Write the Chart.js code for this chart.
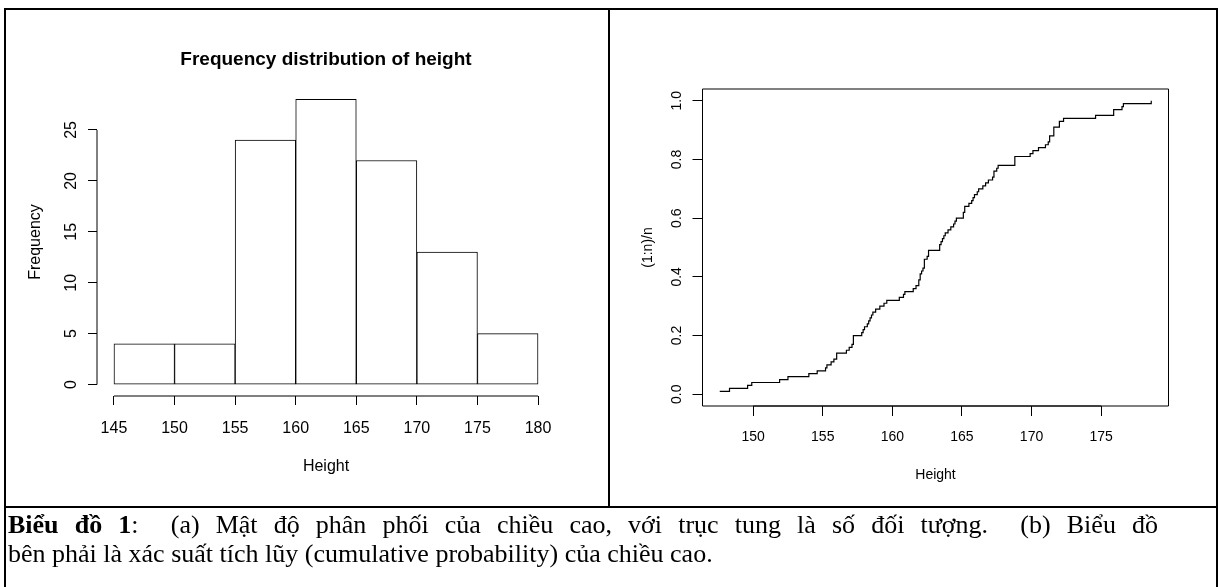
<!DOCTYPE html>
<html>
<head>
    <meta charset="utf-8" />
    <title>Biểu đồ 1</title>
    <script src="https://cdn.jsdelivr.net/npm/chart.js@4.4.0/dist/chart.umd.min.js"></script>
    <style>
        html, body { margin: 0; padding: 0; background: #fff; }
        #page { position: relative; width: 1223px; height: 587px; overflow: hidden; }
        .panel { position: absolute; top: 0; height: 507px; }
        #left-panel { left: 0; width: 609px; }
        #right-panel { left: 609px; width: 608px; }
        .rule { position: absolute; background: #000; }
        #caption {
            position: absolute; left: 8px; top: 510px; width: 1150px;
            font-family: "Liberation Serif", "Times New Roman", serif;
            font-size: 26px; line-height: 29px; color: #000;
        }
        /* first line is justified across the cell, like the Word caption */
        #caption .first { text-align: justify; text-align-last: justify; white-space: nowrap; }
    </style>
</head>
<body>
<div id="page">
    <div class="panel" id="left-panel"><canvas id="histChart"></canvas></div>
    <div class="panel" id="right-panel"><canvas id="ecdfChart"></canvas></div>

    <div class="rule" style="left:4px;top:8px;width:1214px;height:2px"></div>
    <div class="rule" style="left:4px;top:8px;width:2px;height:579px"></div>
    <div class="rule" style="left:1216px;top:8px;width:2px;height:579px"></div>
    <div class="rule" style="left:608px;top:8px;width:2px;height:500px"></div>
    <div class="rule" style="left:4px;top:506px;width:1214px;height:2px"></div>

    <div id="caption">
        <div class="first"><b>Biểu đồ 1</b>:&nbsp; (a) Mật độ phân phối của chiều cao, với trục tung là số đối tượng.&nbsp; (b) Biểu đồ</div>
        <div>bên phải là xác suất tích lũy (cumulative probability) của chiều cao.</div>
    </div>
</div>

<script>
    // histogram: bin edges and counts
    const breaks = [145, 150, 155, 160, 165, 170, 175, 180];
    const counts = [4, 4, 24, 28, 22, 13, 5];
    const histYTicks = [0, 5, 10, 15, 20, 25];

    // sorted heights (n = 100)
    const heights = [
        147.6, 148.3, 149.6, 149.9,
        151.9, 152.5, 154.0, 154.6,
        155.2, 155.3, 155.6, 155.8, 156.0, 156.0, 156.7, 156.9, 157.1, 157.2, 157.2, 157.2,
        157.8, 157.9, 158.0, 158.2, 158.3, 158.4, 158.5, 158.6, 158.8, 159.1, 159.4, 159.6,
        160.5, 160.8, 160.9, 161.5, 161.7, 161.9, 161.9, 162.0, 162.0, 162.1,
        162.2, 162.3, 162.3, 162.3, 162.5, 162.6, 162.6,
        163.4, 163.4, 163.5, 163.6, 163.7, 163.8, 164.0, 164.2, 164.4, 164.5, 164.6,
        165.1, 165.1, 165.2, 165.2, 165.5, 165.7, 165.8, 165.9, 166.1, 166.2,
        166.5, 166.7, 166.9, 167.2, 167.3, 167.3, 167.5, 167.6,
        168.8, 168.8, 168.8, 169.9,
        170.1, 170.5, 171.0, 171.2, 171.3, 171.3, 171.6, 171.6, 171.6, 172.0, 172.0, 172.3, 174.6,
        175.9, 175.9, 176.5, 176.6, 178.6
    ];
    const ecdfXTicks = [150, 155, 160, 165, 170, 175];
    const ecdfYTicks = [0, 0.2, 0.4, 0.6, 0.8, 1.0];
    const ecdfYLabels = ['0.0', '0.2', '0.4', '0.6', '0.8', '1.0'];

    Chart.defaults.font.family = '"Liberation Sans", Arial, sans-serif';
    Chart.defaults.color = '#000';

    // R style axes: line only from first to last tick, optional box
    const rAxes = {
        id: 'rAxes',
        afterDraw(chart, args, opts) {
            const { ctx, chartArea: a, scales } = chart;
            const xs = scales.x, ys = scales.y;
            ctx.save();
            ctx.strokeStyle = '#000';
            ctx.lineWidth = 1;
            ctx.beginPath();
            if (opts.box) {
                ctx.rect(a.left, a.top, a.right - a.left, a.bottom - a.top);
            }
            ctx.moveTo(xs.getPixelForValue(xs.ticks[0].value), a.bottom);
            ctx.lineTo(xs.getPixelForValue(xs.ticks[xs.ticks.length - 1].value), a.bottom);
            ctx.moveTo(a.left, ys.getPixelForValue(ys.ticks[0].value));
            ctx.lineTo(a.left, ys.getPixelForValue(ys.ticks[ys.ticks.length - 1].value));
            ctx.stroke();
            ctx.restore();
        }
    };

    const setTicks = vals => scale => { scale.ticks = vals.map(v => ({ value: v })); };
    const tickGrid = len => ({ drawOnChartArea: false, drawTicks: true, tickLength: len, color: '#000', lineWidth: 1, offset: false });

    // (a) histogram
    const binMids = counts.map((c, i) => (breaks[i] + breaks[i + 1]) / 2);
    new Chart(document.getElementById('histChart'), {
        type: 'bar',
        data: {
            datasets: [{
                data: counts.map((c, i) => ({ x: binMids[i], y: c })),
                backgroundColor: '#fff',
                borderColor: '#000',
                borderWidth: 1,
                borderSkipped: false,
                categoryPercentage: 1,
                barPercentage: 1
            }]
        },
        options: {
            responsive: true,
            maintainAspectRatio: false,
            animation: false,
            layout: { padding: { left: 10, right: 54, top: 48.6, bottom: 30.7 } },
            plugins: {
                legend: { display: false },
                tooltip: { enabled: false },
                title: {
                    display: true,
                    text: 'Frequency distribution of height',
                    fullSize: false,
                    font: { size: 19, weight: 'bold' },
                    padding: { top: 0, bottom: 16.6 }
                },
                rAxes: { box: false }
            },
            scales: {
                x: {
                    type: 'linear',
                    offset: false,
                    min: 143.6, max: 181.4,
                    afterBuildTicks: setTicks(breaks),
                    afterFit: s => { s.height = 80.3; },
                    grid: tickGrid(9),
                    border: { display: false },
                    ticks: { font: { size: 16 }, padding: 13.7, maxRotation: 0, autoSkip: false },
                    title: { display: true, text: 'Height', font: { size: 16 }, padding: { top: 0, bottom: 0 } }
                },
                y: {
                    min: -1.12, max: 29.12,
                    afterBuildTicks: setTicks(histYTicks),
                    afterFit: s => { s.width = 87; },
                    grid: tickGrid(9),
                    border: { display: false },
                    ticks: { font: { size: 16 }, padding: 7.1, minRotation: 90, maxRotation: 90, crossAlign: 'center', autoSkip: false },
                    title: { display: true, text: 'Frequency', font: { size: 16 }, padding: { top: 16.4, bottom: 0 } }
                }
            }
        },
        plugins: [rAxes]
    });

    // (b) cumulative probability, (1:n)/n against sorted height
    const n = heights.length;
    new Chart(document.getElementById('ecdfChart'), {
        type: 'line',
        data: {
            datasets: [{
                data: heights.map((h, i) => ({ x: h, y: (i + 1) / n })),
                borderColor: '#000',
                borderWidth: 1.2,
                pointRadius: 0,
                fill: false,
                stepped: 'before'
            }]
        },
        options: {
            responsive: true,
            maintainAspectRatio: false,
            animation: false,
            layout: { padding: { left: 10, right: 48.5, top: 89, bottom: 23.6 } },
            plugins: {
                legend: { display: false },
                tooltip: { enabled: false },
                rAxes: { box: true }
            },
            scales: {
                x: {
                    type: 'linear',
                    min: 146.36, max: 179.84,
                    afterBuildTicks: setTicks(ecdfXTicks),
                    afterFit: s => { s.height = 77.4; },
                    grid: tickGrid(10),
                    border: { display: false },
                    ticks: { font: { size: 14 }, padding: 12.6, maxRotation: 0, autoSkip: false },
                    title: { display: true, text: 'Height', font: { size: 14 }, padding: { top: 0, bottom: 0 } }
                },
                y: {
                    min: -0.04, max: 1.04,
                    afterBuildTicks: setTicks(ecdfYTicks),
                    afterFit: s => { s.width = 83.5; },
                    grid: tickGrid(10),
                    border: { display: false },
                    ticks: {
                        font: { size: 14 }, padding: 5.8, minRotation: 90, maxRotation: 90, crossAlign: 'center', autoSkip: false,
                        callback: (v, i) => ecdfYLabels[i]
                    },
                    title: { display: true, text: '(1:n)/n', font: { size: 14 }, padding: { top: 20.6, bottom: 0 } }
                }
            }
        },
        plugins: [rAxes]
    });
</script>
</body>
</html>
